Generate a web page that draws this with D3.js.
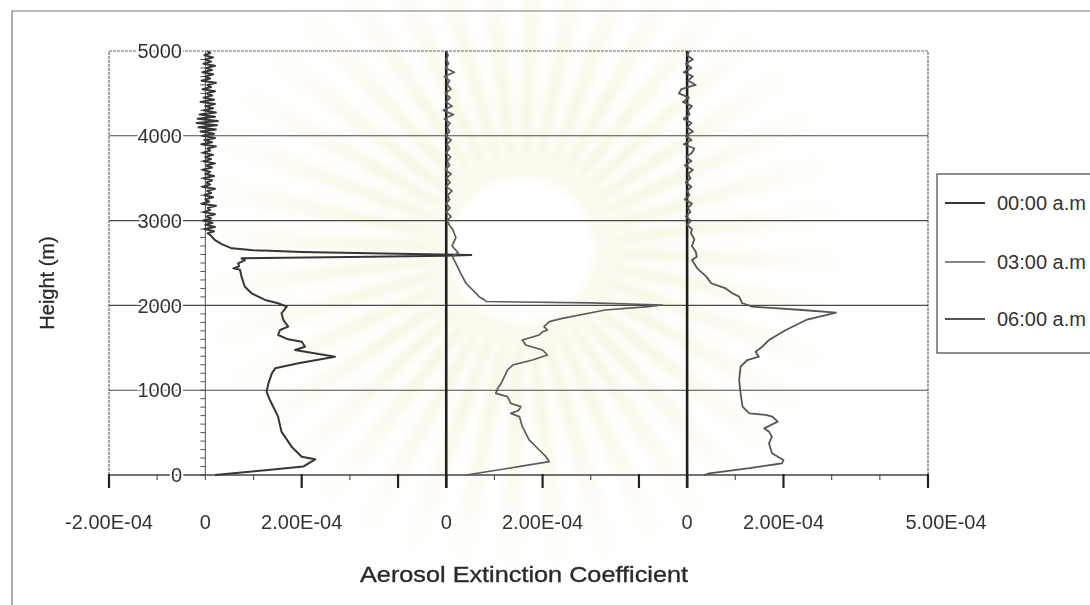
<!DOCTYPE html>
<html>
<head>
<meta charset="utf-8">
<script src="https://cdn.jsdelivr.net/npm/d3@7/dist/d3.min.js"></script>
<style>
  html, body { margin: 0; padding: 0; background: #fff; }
  svg { display: block; font-family: "Liberation Sans", Arial, sans-serif; }
</style>
</head>
<body>
<svg id="chart" width="1090" height="605"></svg>
<script>
// Extinction values are in units of 1E-04; each profile is shifted along x by its offset.
const seriesNames = ["00:00 a.m", "03:00 a.m", "06:00 a.m"];
const seriesOffsets = [0, 5, 10];

// [height (m), extinction (1E-04)] in path order from the ground up
const profile0000 = [
  [0,0.2],[100,2.03],[185,2.28],[216,2.0],[334,1.79],[511,1.58],[688,1.51],[884,1.34],
  [982,1.27],[1081,1.31],[1199,1.38],[1258,1.45],[1317,1.93],[1395,2.69],[1474,1.86],
  [1513,2.07],[1572,2.0],[1600,1.72],[1651,1.51],[1710,1.55],[1749,1.72],[1828,1.62],
  [1907,1.58],[1985,1.69],[2025,1.51],[2064,1.24],[2143,0.96],[2220,0.82],[2339,0.75],
  [2420,0.72],[2437,0.58],[2460,0.7],[2496,0.68],[2535,0.82],[2555,0.75],[2570,3.0],
  [2585,5.0],[2594,5.52],[2610,4.0],[2630,2.0],[2650,1.0],[2673,0.55],[2720,0.35],
  [2771,0.2],[2830,0.1],
  [2850,0.05],[2875,0.18],[2900,-0.02],[2925,0.2],[2950,0.0],[2975,0.15],[3000,-0.05],
  [3025,0.12],[3050,0.02],[3075,0.2],[3100,-0.04],[3125,0.1],[3150,0.05],[3175,0.22],
  [3200,-0.08],[3225,0.08],[3250,0.0],[3275,0.16],[3300,-0.02],[3325,0.12],[3350,0.04],
  [3375,0.2],[3400,-0.06],[3425,0.1],[3450,0.02],[3475,0.14],[3500,-0.04],[3525,0.18],
  [3550,0.0],[3575,0.1],[3600,-0.06],[3625,0.14],[3650,0.02],[3675,0.2],[3700,-0.04],
  [3725,0.12],[3750,0.0],[3775,0.16],[3800,-0.05],[3825,0.1],[3850,0.04],[3875,0.22],
  [3900,-0.08],[3925,0.14],[3950,-0.02],[3975,0.2],[4000,-0.06],[4025,0.18],[4050,-0.1],
  [4075,0.22],[4100,-0.14],[4125,0.24],[4150,-0.18],[4175,0.26],[4200,-0.16],[4225,0.2],
  [4250,-0.12],[4275,0.22],[4300,-0.04],[4325,0.16],[4350,0.0],[4375,0.2],[4400,-0.1],
  [4425,0.18],[4450,-0.04],[4475,0.14],[4500,0.02],[4525,0.2],[4550,-0.06],[4575,0.12],
  [4600,0.04],[4625,0.22],[4650,-0.08],[4675,0.1],[4700,0.0],[4725,0.16],[4750,-0.06],
  [4775,0.14],[4800,0.02],[4825,0.2],[4850,-0.04],[4875,0.12],[4900,0.0],[4925,0.16],
  [4950,-0.02],[4975,0.1],[5000,0.04]
];

const profile0300 = [
  [0,0.41],[80,1.3],[157,2.14],[216,2.07],[295,1.93],[413,1.72],[570,1.58],[688,1.52],
  [727,1.34],[760,1.5],[806,1.55],[845,1.34],[924,1.27],[963,1.03],[1022,1.07],
  [1081,1.14],[1238,1.27],[1297,1.38],[1356,1.79],[1415,2.10],[1474,2.0],[1533,1.65],
  [1592,1.58],[1651,1.93],[1690,2.0],[1710,2.10],[1749,2.03],[1808,2.14],[1847,2.41],
  [1946,3.3],[1985,4.2],[2005,4.48],[2030,3.0],[2040,1.5],[2046,0.83],[2064,0.8],
  [2103,0.68],[2143,0.62],[2261,0.41],[2378,0.3],[2496,0.2],[2575,0.13],[2620,0.25],
  [2700,0.12],[2800,0.2],[2900,0.13],
  [2950,0.06],[3000,0.02],[3050,0.1],[3100,0.0],[3150,0.08],[3200,0.0],[3250,0.07],
  [3300,0.03],[3350,0.12],[3400,0.0],[3450,0.08],[3500,0.01],[3550,0.1],[3600,-0.02],
  [3650,0.07],[3700,0.02],[3750,0.09],[3800,0.0],[3850,0.07],[3900,0.01],[3950,0.1],
  [4000,-0.02],[4050,0.07],[4100,0.02],[4150,0.08],[4200,-0.04],[4250,0.15],[4300,-0.06],
  [4350,0.12],[4400,0.0],[4450,0.08],[4500,-0.02],[4550,0.1],[4600,0.02],[4650,0.07],
  [4700,-0.04],[4750,0.17],[4800,-0.02],[4850,0.05],[4900,0.0],[4950,0.04],[5000,0.0]
];

const profile0600 = [
  [0,0.35],[20,0.46],[80,1.3],[138,1.97],[177,2.0],[256,1.76],[374,1.70],[452,1.76],
  [511,1.70],[550,1.60],[629,1.88],[688,1.77],[708,1.63],[727,1.29],[806,1.15],
  [963,1.11],[1120,1.08],[1277,1.11],[1356,1.25],[1395,1.49],[1454,1.42],[1513,1.56],
  [1592,1.70],[1710,2.05],[1828,2.47],[1914,3.09],[1946,2.39],[1985,1.35],[2028,1.14],
  [2103,1.08],[2143,0.94],[2200,0.8],[2261,0.5],[2339,0.4],[2430,0.22],[2535,0.1],
  [2575,0.2],[2633,0.18],[2700,0.1],[2780,0.15],[2850,0.08],
  [2900,0.1],[2950,0.0],[3000,0.08],[3050,-0.03],[3100,0.07],[3150,0.02],[3200,0.1],
  [3250,-0.05],[3300,0.05],[3350,0.0],[3400,0.09],[3450,-0.03],[3500,0.07],[3550,0.02],
  [3600,0.12],[3650,-0.05],[3700,0.09],[3750,-0.02],[3800,0.1],[3850,0.15],[3900,-0.07],
  [3950,0.09],[4000,-0.03],[4050,0.12],[4100,0.0],[4150,0.09],[4200,-0.07],[4250,0.05],
  [4300,0.02],[4350,0.1],[4400,-0.09],[4450,0.04],[4500,-0.17],[4550,-0.12],[4600,0.18],
  [4650,0.02],[4700,0.12],[4750,-0.07],[4800,0.09],[4850,-0.03],[4900,0.12],[4950,0.0],
  [5000,0.05]
];

const profiles = [profile0000, profile0300, profile0600];
const seriesColors = ["#363636", "#5c5c5c", "#555555"];
const seriesWidths = [2.0, 1.7, 1.8];

const heightTicks = [0, 1000, 2000, 3000, 4000, 5000];
const heightMinor = d3.range(0, 5000, 100);
// x positions in 1E-04 units (offset scale)
const xMajorTicks = [-2, 2, 4, 5, 7, 9, 10, 12, 15];
const xMinorTicks = [-1, 0, 1, 3, 6, 8, 11, 13, 14];
const xTickLabelPos = [-2, 0, 2, 5, 7, 10, 12, 15];
const xTickLabels = ["-2.00E-04", "0", "2.00E-04", "0", "2.00E-04", "0", "2.00E-04", "5.00E-04"];

const svg = d3.select("#chart");
const W = 1090, H = 605;

const x = d3.scaleLinear().domain([-2, 15]).range([109, 928]);
const y = d3.scaleLinear().domain([0, 5000]).range([475, 51]);

svg.append("rect").attr("width", W).attr("height", H).attr("fill", "#fff");

// faint sunburst emblem printed behind the chart
const defs = svg.append("defs");
defs.append("filter").attr("id", "soft")
  .attr("x", "-20%").attr("y", "-20%").attr("width", "140%").attr("height", "140%")
  .append("feGaussianBlur").attr("stdDeviation", 5);
const cx = 522, cy = 250;
const rayArc = d3.arc().innerRadius(60).outerRadius(330);
const nRays = 40;
const rayG = svg.append("g").attr("transform", `translate(${cx},${cy})`).attr("filter", "url(#soft)");
rayG.selectAll("path").data(d3.range(nRays)).join("path")
  .attr("d", i => {
    const a0 = i * 2 * Math.PI / nRays;
    return rayArc({ startAngle: a0, endAngle: a0 + Math.PI / nRays });
  })
  .attr("fill", "#f2e4b4").attr("opacity", 0.45);
const fade = defs.append("radialGradient").attr("id", "fade");
fade.append("stop").attr("offset", "0.3").attr("stop-color", "#fff").attr("stop-opacity", 0);
fade.append("stop").attr("offset", "1").attr("stop-color", "#fff").attr("stop-opacity", 1);
svg.append("circle").attr("cx", cx).attr("cy", cy).attr("r", 335).attr("fill", "url(#fade)");
svg.append("circle").attr("cx", cx).attr("cy", cy).attr("r", 72).attr("fill", "#fff").attr("filter", "url(#soft)");

// outer chart frame
svg.append("path").attr("d", "M12,605 L12,11 L1090,11")
  .attr("fill", "none").attr("stroke", "#777").attr("stroke-width", 1.2);

// plot area frame (top, left, right)
svg.append("path")
  .attr("d", `M${x(-2)},${y(0)} L${x(-2)},${y(5000)} L${x(15)},${y(5000)} L${x(15)},${y(0)}`)
  .attr("fill", "none").attr("stroke", "#666").attr("stroke-width", 1.2)
  .attr("stroke-dasharray", "3,1");

// horizontal gridlines
svg.append("g").selectAll("line").data(heightTicks.filter(d => d > 0 && d < 5000)).join("line")
  .attr("x1", x(-2)).attr("x2", x(15)).attr("y1", d => y(d)).attr("y2", d => y(d))
  .attr("stroke", "#4a4a4a").attr("stroke-width", 1.1);

// left value axis at zero of the first profile
const yAxisX = x(0);
svg.append("line").attr("x1", yAxisX).attr("x2", yAxisX).attr("y1", y(0)).attr("y2", y(5000))
  .attr("stroke", "#555").attr("stroke-width", 1);
svg.append("g").selectAll("line").data(heightMinor).join("line")
  .attr("x1", yAxisX - 5).attr("x2", yAxisX).attr("y1", d => y(d)).attr("y2", d => y(d))
  .attr("stroke", "#555").attr("stroke-width", 1);

// baseline axes for the shifted profiles
svg.append("g").selectAll("line").data(seriesOffsets.slice(1)).join("line")
  .attr("x1", d => x(d)).attr("x2", d => x(d)).attr("y1", y(5000)).attr("y2", y(0) + 13)
  .attr("stroke", "#1e1e1e").attr("stroke-width", 2.6);

// x axis line and ticks
svg.append("line").attr("x1", x(-2)).attr("x2", x(15)).attr("y1", y(0)).attr("y2", y(0))
  .attr("stroke", "#444").attr("stroke-width", 1.3);
svg.append("g").selectAll("line").data(xMajorTicks).join("line")
  .attr("x1", d => x(d)).attr("x2", d => x(d)).attr("y1", y(0) - 1).attr("y2", y(0) + 13)
  .attr("stroke", "#222").attr("stroke-width", 2.2);
svg.append("g").selectAll("line").data(xMinorTicks).join("line")
  .attr("x1", d => x(d)).attr("x2", d => x(d)).attr("y1", y(0) - 1).attr("y2", y(0) + 5)
  .attr("stroke", "#555").attr("stroke-width", 1.2);

// profiles
const line = (off) => d3.line().x(d => x(d[1] + off)).y(d => y(d[0]));
profiles.forEach((p, i) => {
  svg.append("path").datum(p)
    .attr("d", line(seriesOffsets[i]))
    .attr("fill", "none").attr("stroke", seriesColors[i])
    .attr("stroke-width", seriesWidths[i]).attr("stroke-linejoin", "round");
});

// height tick labels (with white halo over gridlines)
svg.append("g").selectAll("text").data(heightTicks).join("text")
  .attr("x", 182).attr("y", d => y(d)).attr("dy", "0.36em")
  .attr("text-anchor", "end").attr("font-size", 20).attr("fill", "#333")
  .attr("stroke", "#fff").attr("stroke-width", 4).attr("paint-order", "stroke")
  .text(d => d);

// x tick labels
svg.append("g").selectAll("text").data(xTickLabelPos).join("text")
  .attr("x", (d, i) => x(d) + (i === xTickLabelPos.length - 1 ? 18 : 0))
  .attr("y", 529).attr("text-anchor", "middle").attr("font-size", 20).attr("fill", "#333")
  .text((d, i) => xTickLabels[i]);

// axis titles
svg.append("text").attr("x", 524).attr("y", 582).attr("text-anchor", "middle")
  .attr("font-size", 22).attr("fill", "#2a2a2a").attr("textLength", 328)
  .attr("lengthAdjust", "spacingAndGlyphs")
  .attr("stroke", "#2a2a2a").attr("stroke-width", 0.35)
  .text("Aerosol Extinction Coefficient");
svg.append("text").attr("transform", "translate(54,283) rotate(-90)")
  .attr("text-anchor", "middle").attr("font-size", 20).attr("fill", "#2a2a2a")
  .attr("stroke", "#2a2a2a").attr("stroke-width", 0.3)
  .text("Height (m)");

// legend
const lg = svg.append("g");
lg.append("rect").attr("x", 937).attr("y", 174).attr("width", 200).attr("height", 179)
  .attr("fill", "#fff").attr("stroke", "#444").attr("stroke-width", 1.2);
const legendRowY = [203, 262, 319];
seriesNames.forEach((name, i) => {
  lg.append("line").attr("x1", 945).attr("x2", 985)
    .attr("y1", legendRowY[i]).attr("y2", legendRowY[i])
    .attr("stroke", seriesColors[i]).attr("stroke-width", seriesWidths[i]);
  lg.append("text").attr("x", 997).attr("y", legendRowY[i]).attr("dy", "0.36em")
    .attr("font-size", 20).attr("fill", "#333").text(name);
});
</script>
</body>
</html>
